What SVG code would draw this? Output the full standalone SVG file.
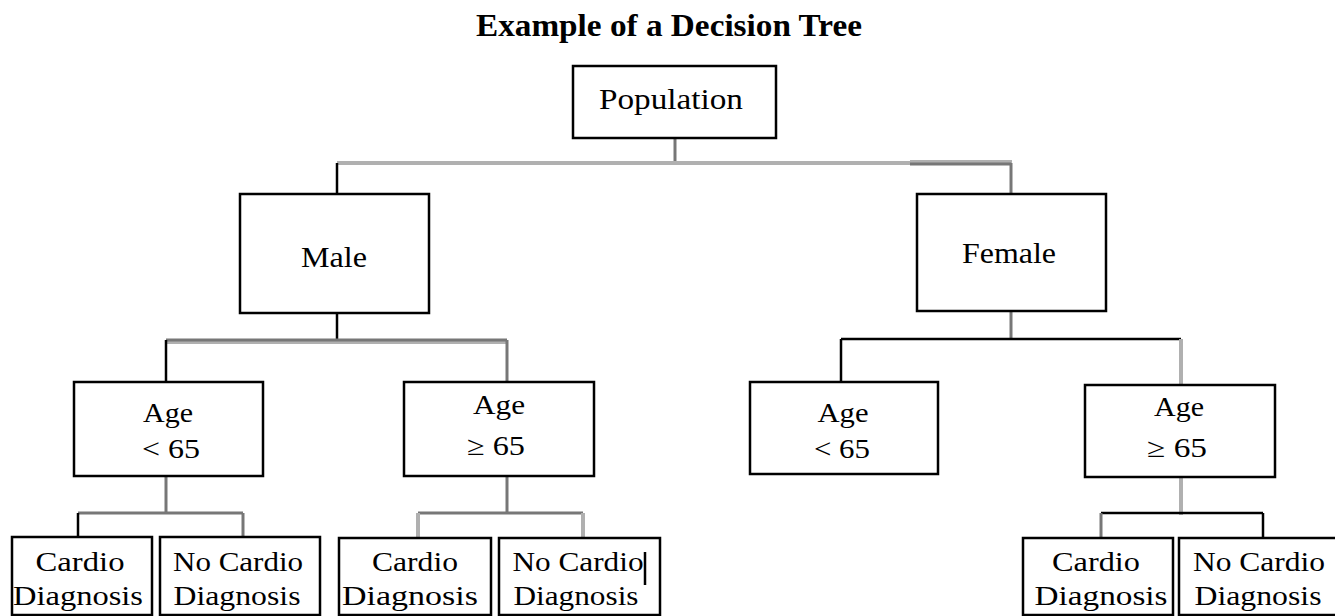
<svg xmlns="http://www.w3.org/2000/svg" width="1335" height="616" viewBox="0 0 1335 616">
<style>
.box{fill:#fff;stroke:#000;stroke-width:2.5}
.t{font-family:"Liberation Serif","Times New Roman",serif;fill:#000;text-anchor:middle}
.big{font-size:30px}
.sm{font-size:27px}
.title{font-size:31px;font-weight:bold}
.k{stroke:#000;stroke-width:2.5;fill:none}
.d{stroke:#777;stroke-width:3;fill:none}
.l{stroke:#b0b0b0;stroke-width:4;fill:none}
</style>
<rect width="1335" height="616" fill="#fff"/>
<text class="t title" x="669" y="36" textLength="386" lengthAdjust="spacingAndGlyphs">Example of a Decision Tree</text>
<g id="connectors">
<line class="d" x1="675" y1="138" x2="675" y2="163"/>
<line class="l" x1="337" y1="163" x2="912" y2="163"/>
<line class="l" x1="910" y1="162" x2="1012" y2="162"/>
<line class="d" x1="910" y1="164" x2="1011" y2="164"/>
<line class="d" x1="1011" y1="163" x2="1011" y2="194"/>
<line class="k" x1="337" y1="163" x2="337" y2="194"/>
<line class="k" x1="337" y1="313" x2="337" y2="340"/>
<line class="l" x1="166" y1="342" x2="507" y2="342"/>
<line class="d" x1="166" y1="340" x2="507" y2="340"/>
<line class="d" x1="507" y1="340" x2="507" y2="382"/>
<line class="k" x1="166" y1="340" x2="166" y2="382"/>
<line class="d" x1="1011" y1="311" x2="1011" y2="339"/>
<line class="k" x1="841" y1="339" x2="1181" y2="339"/>
<line class="k" x1="841" y1="339" x2="841" y2="382"/>
<line class="l" x1="1181" y1="339" x2="1181" y2="385"/>
<line class="d" x1="166" y1="476" x2="166" y2="513"/>
<line class="d" x1="78" y1="513" x2="243" y2="513"/>
<line class="k" x1="78" y1="513" x2="78" y2="537"/>
<line class="d" x1="243" y1="513" x2="243" y2="537"/>
<line class="d" x1="507" y1="476" x2="507" y2="513"/>
<line class="d" x1="418" y1="513" x2="583" y2="513"/>
<line class="l" x1="418" y1="513" x2="418" y2="538"/>
<line class="l" x1="583" y1="513" x2="583" y2="538"/>
<line class="l" x1="1181" y1="477" x2="1181" y2="515"/>
<line class="k" x1="1101" y1="513" x2="1263" y2="513"/>
<line class="d" x1="1101" y1="513" x2="1101" y2="538"/>
<line class="k" x1="1263" y1="513" x2="1263" y2="538"/>
</g>
<g id="population">
<rect class="box" x="573" y="66" width="203" height="72"/>
<text class="t big" x="671" y="109" textLength="144" lengthAdjust="spacingAndGlyphs">Population</text>
</g>
<g id="male">
<rect class="box" x="240" y="194" width="189" height="119"/>
<text class="t big" x="334" y="267" textLength="66" lengthAdjust="spacingAndGlyphs">Male</text>
</g>
<g id="female">
<rect class="box" x="917" y="194" width="189" height="117"/>
<text class="t big" x="1009" y="263" textLength="94" lengthAdjust="spacingAndGlyphs">Female</text>
</g>
<g id="male-age-lt65">
<rect class="box" x="74" y="382" width="189" height="94"/>
<text class="t sm" x="168" y="422" textLength="50" lengthAdjust="spacingAndGlyphs">Age</text>
<text class="t sm" x="171" y="458" textLength="58" lengthAdjust="spacingAndGlyphs">&lt; 65</text>
</g>
<g id="male-age-ge65">
<rect class="box" x="404" y="382" width="190" height="94"/>
<text class="t sm" x="499" y="414" textLength="52" lengthAdjust="spacingAndGlyphs">Age</text>
<text class="t sm" x="496" y="455" textLength="58" lengthAdjust="spacingAndGlyphs">≥ 65</text>
</g>
<g id="female-age-lt65">
<rect class="box" x="750" y="382" width="188" height="92"/>
<text class="t sm" x="843" y="422" textLength="51" lengthAdjust="spacingAndGlyphs">Age</text>
<text class="t sm" x="842" y="458" textLength="56" lengthAdjust="spacingAndGlyphs">&lt; 65</text>
</g>
<g id="female-age-ge65">
<rect class="box" x="1085" y="385" width="190" height="92"/>
<text class="t sm" x="1179" y="416" textLength="50" lengthAdjust="spacingAndGlyphs">Age</text>
<text class="t sm" x="1177" y="457" textLength="60" lengthAdjust="spacingAndGlyphs">≥ 65</text>
</g>
<g id="leaf1">
<rect class="box" x="12" y="537" width="140" height="78"/>
<text class="t sm" x="80" y="571" textLength="89" lengthAdjust="spacingAndGlyphs">Cardio</text>
<text class="t sm" x="78" y="605" textLength="130" lengthAdjust="spacingAndGlyphs">Diagnosis</text>
</g>
<g id="leaf2">
<rect class="box" x="160" y="537" width="160" height="78"/>
<text class="t sm" x="238" y="571" textLength="130" lengthAdjust="spacingAndGlyphs">No Cardio</text>
<text class="t sm" x="237" y="605" textLength="127" lengthAdjust="spacingAndGlyphs">Diagnosis</text>
</g>
<g id="leaf3">
<rect class="box" x="339" y="538" width="152" height="77"/>
<text class="t sm" x="415" y="571" textLength="86" lengthAdjust="spacingAndGlyphs">Cardio</text>
<text class="t sm" x="410" y="605" textLength="136" lengthAdjust="spacingAndGlyphs">Diagnosis</text>
</g>
<g id="leaf4">
<rect class="box" x="499" y="538" width="161" height="77"/>
<text class="t sm" x="578" y="571" textLength="131" lengthAdjust="spacingAndGlyphs">No Cardio</text>
<text class="t sm" x="576" y="605" textLength="125" lengthAdjust="spacingAndGlyphs">Diagnosis</text>
<line class="k" x1="645" y1="552" x2="645" y2="585"/>
</g>
<g id="leaf5">
<rect class="box" x="1023" y="538" width="150" height="77"/>
<text class="t sm" x="1096" y="571" textLength="88" lengthAdjust="spacingAndGlyphs">Cardio</text>
<text class="t sm" x="1101" y="605" textLength="133" lengthAdjust="spacingAndGlyphs">Diagnosis</text>
</g>
<g id="leaf6">
<rect class="box" x="1179" y="538" width="160" height="77"/>
<text class="t sm" x="1259" y="571" textLength="132" lengthAdjust="spacingAndGlyphs">No Cardio</text>
<text class="t sm" x="1258" y="605" textLength="127" lengthAdjust="spacingAndGlyphs">Diagnosis</text>
</g>
</svg>
